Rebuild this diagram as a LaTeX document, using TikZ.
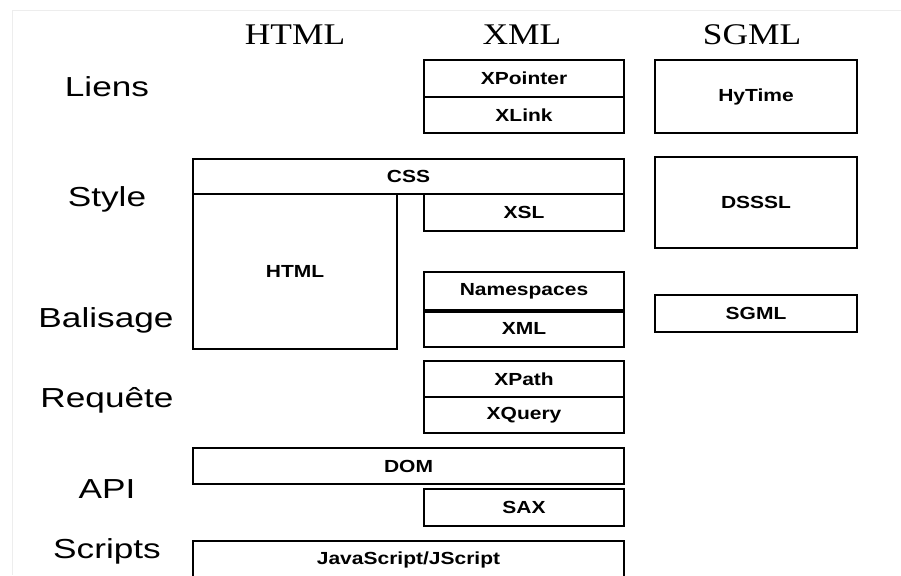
\documentclass[tikz,border=0pt]{standalone}
\usepackage{fontspec}
\newfontfamily\hdrfont[FakeStretch=1.18]{Liberation Serif}
\newfontfamily\lblfont[FakeStretch=1.28]{Liberation Sans}
\newfontfamily\boxfont[FakeStretch=1.2]{Liberation Sans}
\begin{document}
\begin{tikzpicture}[x=1pt,y=-1pt,
  blk/.style={draw=black, line width=1.8pt, inner sep=0pt,
    font=\boxfont\bfseries\fontsize{17.5}{19}\selectfont},
  hdr/.style={anchor=base, inner sep=0pt, font=\hdrfont\fontsize{30}{32}\selectfont},
  lbl/.style={anchor=base, inner sep=0pt, font=\lblfont\fontsize{27.5}{30}\selectfont}]
\useasboundingbox (0,0) rectangle (901,575);
\clip (0,0) rectangle (901,575);
\fill[white] (0,0) rectangle (901,575);
% faint scan frame
\draw[black!7, line width=0.8pt] (12,575) -- (12,10) -- (901,10);

% column headers
\node[hdr] (hHTML) at (295,45) {HTML};
\node[hdr] (hXML)  at (522,45) {XML};
\node[hdr] (hSGML) at (752,45) {SGML};

% row labels
\node[lbl] (lLiens)    at (107,97)  {Liens};
\node[lbl] (lStyle)    at (107,206) {Style};
\node[lbl] (lBalisage) at (106,327) {Balisage};
\node[lbl] (lRequete)  at (107,407) {Requête};
\node[lbl] (lAPI)      at (107,498) {API};
\node[lbl] (lScripts)  at (107,558) {Scripts};

% XML column
\node[blk, minimum width=200pt, minimum height=37pt] (xptr)   at (524,78.5)  {XPointer};
\node[blk, minimum width=200pt, minimum height=36pt] (xlink)  at (524,115)   {XLink};
\node[blk, minimum width=200pt, minimum height=37pt] (xsl)    at (524,212.5) {XSL};
\node[blk, minimum width=200pt, minimum height=38pt] (ns)     at (524,291)   {Namespaces};
\node[blk, minimum width=200pt, minimum height=37pt] (xmlb)   at (524,328.5) {XML};
\node[blk, minimum width=200pt, minimum height=36pt] (xpath)  at (524,379)   {XPath};
\node[blk, minimum width=200pt, minimum height=36pt] (xquery) at (524,415)   {XQuery};
\node[blk, minimum width=200pt, minimum height=37pt] (sax)    at (524,507.5) {SAX};
\draw[line width=3.2pt] (ns.south west) -- (ns.south east);

% HTML column and shared bands
\node[blk, minimum width=204pt, minimum height=155pt] (htmlb) at (295,271.5) {HTML};
\node[blk, minimum width=431pt, minimum height=35pt] (css) at (408.5,176.5) {CSS};
\node[blk, minimum width=431pt, minimum height=36pt] (dom) at (408.5,466)   {DOM};
\node[blk, minimum width=431pt, minimum height=37pt] (js)  at (408.5,559.5) {JavaScript/JScript};

% SGML column
\node[blk, minimum width=202pt, minimum height=73pt] (hytime) at (756,96.5)  {HyTime};
\node[blk, minimum width=202pt, minimum height=91pt] (dsssl)  at (756,202.5) {DSSSL};
\node[blk, minimum width=202pt, minimum height=37pt] (sgml)   at (756,313.5) {SGML};
\end{tikzpicture}
\end{document}
